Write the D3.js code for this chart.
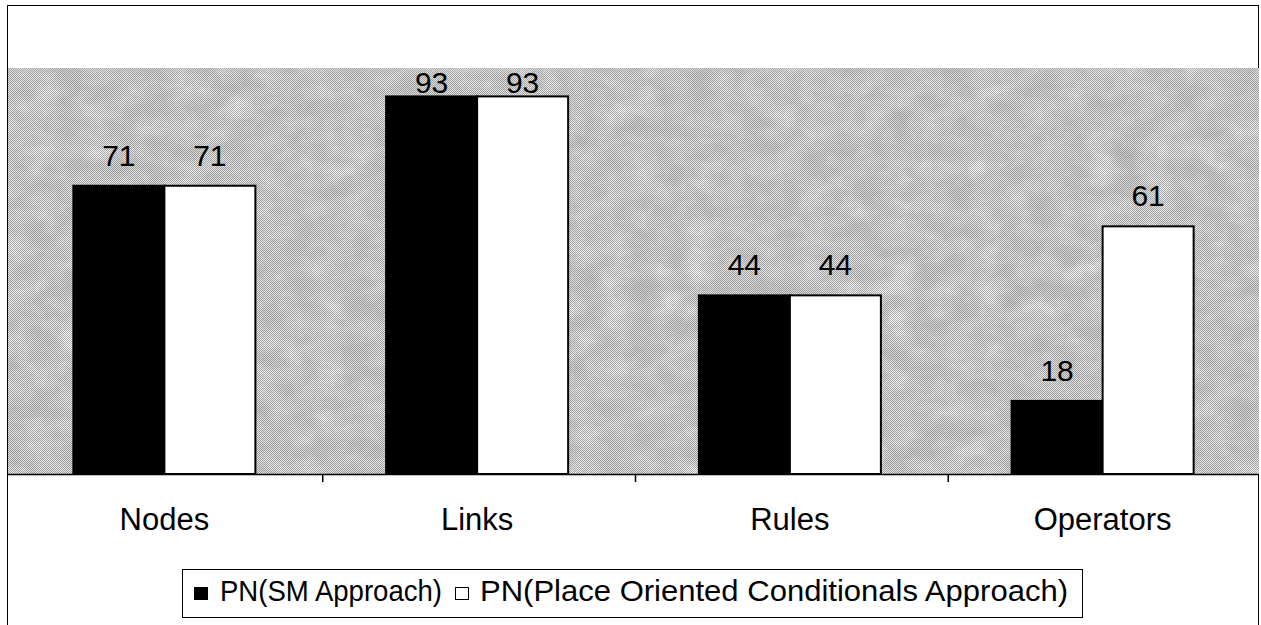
<!DOCTYPE html>
<html>
<head>
<meta charset="utf-8">
<script src="https://cdn.jsdelivr.net/npm/d3@7/dist/d3.min.js"></script>
<style>
  html, body { margin: 0; padding: 0; background: #fff; }
  svg { display: block; }
  text { font-family: "Liberation Sans", Arial, sans-serif; fill: #000; }
</style>
</head>
<body>
<svg id="chart" width="1261" height="625"></svg>
<script>
// Element counts per model category
const categories = ["Nodes", "Links", "Rules", "Operators"];
const seriesNames = ["PN(SM Approach)", "PN(Place Oriented Conditionals Approach)"];
const smApproach = [71, 93, 44, 18];
const placeOriented = [71, 93, 44, 61];
const yDomain = [0, 100];

const plot = { left: 8, right: 1259, top: 68, bottom: 474 };

const svg = d3.select("#chart");
const defs = svg.append("defs");

// granite-like mottled gray fill for the plot area
const f = defs.append("filter").attr("id", "granite")
  .attr("x", 0).attr("y", 0).attr("width", 1).attr("height", 1)
  .attr("filterUnits", "objectBoundingBox");
const toGray = "0.33 0.33 0.33 0 0  0.33 0.33 0.33 0 0  0.33 0.33 0.33 0 0  0 0 0 0 1";
f.append("feTurbulence").attr("type", "fractalNoise")
  .attr("baseFrequency", "0.035 0.05").attr("numOctaves", 5).attr("seed", 11).attr("result", "n1");
f.append("feColorMatrix").attr("in", "n1").attr("type", "matrix").attr("values", toGray).attr("result", "g1");
f.append("feTurbulence").attr("type", "fractalNoise")
  .attr("baseFrequency", "0.7").attr("numOctaves", 2).attr("seed", 3).attr("result", "n2");
f.append("feColorMatrix").attr("in", "n2").attr("type", "matrix").attr("values", toGray).attr("result", "g2");
f.append("feComposite").attr("in", "g1").attr("in2", "g2").attr("operator", "arithmetic")
  .attr("k1", 0).attr("k2", 0.8).attr("k3", 0.5).attr("k4", -0.15).attr("result", "mix");
const ct = f.append("feComponentTransfer").attr("in", "mix");
["feFuncR", "feFuncG", "feFuncB"].forEach(fn =>
  ct.append(fn).attr("type", "table").attr("tableValues", "0.35 0.55 0.64 0.7 0.8 0.95 1 1"));

// fine dither overlay
const dither = defs.append("pattern").attr("id", "dither")
  .attr("width", 2).attr("height", 2).attr("patternUnits", "userSpaceOnUse");
dither.append("rect").attr("width", 1).attr("height", 1).attr("fill", "#000").attr("opacity", 0.28);
dither.append("rect").attr("x", 1).attr("y", 1).attr("width", 1).attr("height", 1).attr("fill", "#000").attr("opacity", 0.28);

// outer chart frame
svg.append("rect").attr("x", 7.5).attr("y", 5.5).attr("width", 1251).attr("height", 640)
  .attr("fill", "#fff").attr("stroke", "#000").attr("stroke-width", 1);

// plot background
svg.append("rect").attr("x", plot.left).attr("y", plot.top)
  .attr("width", plot.right - plot.left).attr("height", plot.bottom - plot.top)
  .attr("fill", "#bbb").attr("filter", "url(#granite)");
svg.append("rect").attr("x", plot.left).attr("y", plot.top)
  .attr("width", plot.right - plot.left).attr("height", plot.bottom - plot.top)
  .attr("fill", "url(#dither)");

// scales
const x0 = d3.scaleBand().domain(categories).range([plot.left, plot.right])
  .paddingInner(0.418).paddingOuter(0.209);
const x1 = d3.scaleBand().domain(seriesNames).range([0, x0.bandwidth()]);
const y = d3.scaleLinear().domain(yDomain).range([plot.bottom, plot.top]);

const colors = { [seriesNames[0]]: "#000", [seriesNames[1]]: "#fff" };
const rows = categories.map((c, i) => ({ cat: c, vals: [
  { s: seriesNames[0], v: smApproach[i] },
  { s: seriesNames[1], v: placeOriented[i] }
]}));

const groups = svg.append("g").selectAll("g").data(rows).join("g")
  .attr("transform", d => `translate(${x0(d.cat)},0)`);

groups.selectAll("rect").data(d => d.vals).join("rect")
  .attr("x", d => x1(d.s))
  .attr("y", d => y(d.v))
  .attr("width", x1.bandwidth())
  .attr("height", d => y(0) - y(d.v))
  .attr("fill", d => colors[d.s])
  .attr("stroke", "#000").attr("stroke-width", 2);

// value labels, kept inside the plot area
groups.selectAll("text").data(d => d.vals).join("text")
  .attr("x", d => x1(d.s) + x1.bandwidth() / 2)
  .attr("y", d => Math.max(y(d.v) - 20, plot.top + 25))
  .attr("text-anchor", "middle")
  .style("font-size", "30px")
  .text(d => d.v);

// category axis
const ax = svg.append("g").attr("transform", `translate(0,${plot.bottom})`);
ax.append("line").attr("x1", plot.left).attr("x2", plot.right).attr("y1", 0.5).attr("y2", 0.5)
  .attr("stroke", "#000").attr("stroke-width", 1.5);
ax.selectAll("line.tk").data(categories.slice(1)).join("line").attr("class", "tk")
  .attr("x1", d => x0(d) - x0.step() * x0.paddingInner() / 2 + 2)
  .attr("x2", d => x0(d) - x0.step() * x0.paddingInner() / 2 + 2)
  .attr("y1", 0).attr("y2", 8).attr("stroke", "#000").attr("stroke-width", 1.5);
ax.selectAll("text.cat").data(categories).join("text").attr("class", "cat")
  .attr("x", d => x0(d) + x0.bandwidth() / 2)
  .attr("y", 56)
  .attr("text-anchor", "middle")
  .style("font-size", "31px")
  .text(d => d);

// legend
const lg = svg.append("g");
lg.append("rect").attr("x", 182.5).attr("y", 569.5).attr("width", 900).attr("height", 48)
  .attr("fill", "#fff").attr("stroke", "#000").attr("stroke-width", 1);
const legendItems = [
  { s: seriesNames[0], sx: 194, tx: 220, tw: 222 },
  { s: seriesNames[1], sx: 455, tx: 480, tw: 588 }
];
legendItems.forEach(it => {
  lg.append("rect").attr("x", it.sx + 0.5).attr("y", 587.5).attr("width", 13).attr("height", 12)
    .attr("fill", colors[it.s]).attr("stroke", "#000").attr("stroke-width", 1);
  lg.append("text").attr("x", it.tx).attr("y", 601)
    .style("font-size", "29px")
    .attr("textLength", it.tw).attr("lengthAdjust", "spacingAndGlyphs")
    .text(it.s);
});
</script>
</body>
</html>
